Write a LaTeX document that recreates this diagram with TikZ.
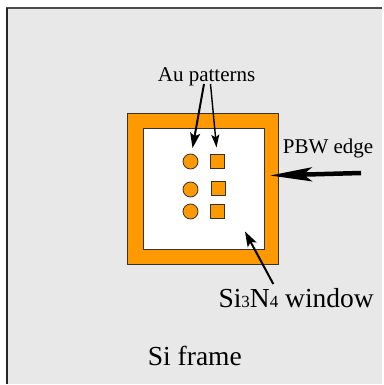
\documentclass[tikz,border=0pt]{standalone}
\usepackage{fontspec}
\setmainfont{Liberation Serif}
\usetikzlibrary{arrows.meta}
\definecolor{pbworange}{RGB}{255,153,0}
\definecolor{sigray}{RGB}{232,232,232}
\begin{document}
\begin{tikzpicture}[x=1pt,y=-1pt,
  outline/.style={draw=black!80, line width=0.8pt},
  lbl/.style={anchor=base west, inner sep=0pt, font=\fontsize{21}{21}\selectfont},
  biglbl/.style={anchor=base west, inner sep=0pt, font=\fontsize{27.5}{27.5}\selectfont},
  dot/.style={circle, fill=pbworange, outline, minimum size=15pt, inner sep=0pt},
  pad/.style={rectangle, fill=pbworange, outline, minimum size=14pt, inner sep=0pt},
  ptr/.style={line width=2pt, -{Stealth[length=15pt,width=10pt,inset=3pt]}},
  thinptr/.style={line width=1.4pt, -{Stealth[length=13pt,width=8pt,inset=3pt]}},
  fatptr/.style={line width=4.5pt, -{Stealth[length=42pt,width=14pt,inset=9pt]}}
]
\useasboundingbox (0,0) rectangle (383,385);
\fill[white] (0,0) rectangle (383,385);
% Si frame
\fill[sigray] (6,8) rectangle (382,384);
\draw[black!70, line width=1.5pt] (6,8) -- (382,8);
\draw[black!85, line width=2pt] (6.5,8) -- (6.5,384);
% PBW edge (orange frame) and Si3N4 window
\node[rectangle, fill=pbworange, outline, minimum size=151pt, inner sep=0pt] (edge) at (202.5,188.5) {};
\node[rectangle, fill=white, outline, minimum size=121pt, inner sep=0pt] (win) at (203.5,188.5) {};
% Au patterns
\node[dot] (c1) at (190.5,161.5) {};
\node[dot] (c2) at (190.5,189.5) {};
\node[dot] (c3) at (190.5,211.5) {};
\node[pad] (s1) at (217.5,161) {};
\node[pad] (s2) at (218.5,188) {};
\node[pad] (s3) at (217.5,211.5) {};
% labels
\node[lbl] (au) at (157.7,82) {Au patterns};
\node[lbl] (pbw) at (282.7,153) {PBW edge};
\node[biglbl] (sin) at (218.3,307) {Si{\fontsize{17}{17}\selectfont 3}N{\fontsize{17}{17}\selectfont 4} window};
\node[biglbl] (si) at (147.7,365) {Si frame};
% arrow ends
\coordinate (auL) at (204,84);
\coordinate (auR) at (210.5,84);
\coordinate (tipC) at (192.5,148);
\coordinate (tipS) at (216.5,147.5);
\coordinate (pbwS) at (361,173);
\coordinate (pbwT) at (270,175.5);
\coordinate (sinS) at (273.3,284);
\coordinate (sinT) at (245,231.5);
\draw[ptr] (auL) -- (tipC);
\draw[thinptr] (auR) -- (tipS);
\draw[fatptr] (pbwS) -- (pbwT);
\draw[ptr] (sinS) -- (sinT);
\end{tikzpicture}
\end{document}
